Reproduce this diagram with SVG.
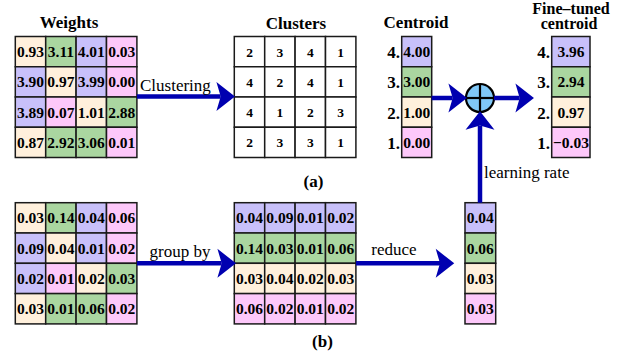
<svg xmlns="http://www.w3.org/2000/svg" width="638" height="356" viewBox="0 0 638 356">
<style>
.c{fill:#fff0dc}.g{fill:#aad6a0}.p{fill:#c8c0fa}.k{fill:#fdc8fa}.w{fill:#ffffff}
rect{stroke:#1a1a1a;stroke-width:1.5}
text{fill:#000}
.n{font-size:15.5px;font-weight:bold;text-anchor:middle}
.cn{font-size:13.5px;font-weight:bold;text-anchor:middle}
.t{font-size:17px;font-weight:bold;text-anchor:middle}
.f{font-size:16px;font-weight:bold;text-anchor:middle}
.l{font-size:17px;font-weight:bold;text-anchor:end}
.r{font-size:17px}
.arr{stroke:#0000b0;stroke-width:4.5;fill:none;marker-end:url(#ah)}
</style>
<defs>
<marker id="ah" markerUnits="userSpaceOnUse" markerWidth="20" markerHeight="30" viewBox="0 -14 18 28" refX="4" refY="0" orient="auto" overflow="visible">
<path d="M0,-13.5 L17.3,0 L0,13.5 L4,0 Z" fill="#0000b0"/>
</marker>
</defs>
<g font-family="Liberation Serif, serif">
<g id="weights">
<text class="t" x="69" y="28">Weights</text>
<rect class="c" x="15.3" y="36.5" width="30.4" height="30.25"/><rect class="g" x="45.7" y="36.5" width="30.4" height="30.25"/><rect class="p" x="76.1" y="36.5" width="30.4" height="30.25"/><rect class="k" x="106.5" y="36.5" width="30.4" height="30.25"/>
<rect class="p" x="15.3" y="66.75" width="30.4" height="30.25"/><rect class="c" x="45.7" y="66.75" width="30.4" height="30.25"/><rect class="p" x="76.1" y="66.75" width="30.4" height="30.25"/><rect class="k" x="106.5" y="66.75" width="30.4" height="30.25"/>
<rect class="p" x="15.3" y="97" width="30.4" height="30.25"/><rect class="k" x="45.7" y="97" width="30.4" height="30.25"/><rect class="c" x="76.1" y="97" width="30.4" height="30.25"/><rect class="g" x="106.5" y="97" width="30.4" height="30.25"/>
<rect class="c" x="15.3" y="127.25" width="30.4" height="30.25"/><rect class="g" x="45.7" y="127.25" width="30.4" height="30.25"/><rect class="g" x="76.1" y="127.25" width="30.4" height="30.25"/><rect class="k" x="106.5" y="127.25" width="30.4" height="30.25"/>
<text class="n" x="30.5" y="57">0.93</text><text class="n" x="60.9" y="57">3.11</text><text class="n" x="91.3" y="57">4.01</text><text class="n" x="121.7" y="57">0.03</text>
<text class="n" x="30.5" y="87.3">3.90</text><text class="n" x="60.9" y="87.3">0.97</text><text class="n" x="91.3" y="87.3">3.99</text><text class="n" x="121.7" y="87.3">0.00</text>
<text class="n" x="30.5" y="117.5">3.89</text><text class="n" x="60.9" y="117.5">0.07</text><text class="n" x="91.3" y="117.5">1.01</text><text class="n" x="121.7" y="117.5">2.88</text>
<text class="n" x="30.5" y="147.8">0.87</text><text class="n" x="60.9" y="147.8">2.92</text><text class="n" x="91.3" y="147.8">3.06</text><text class="n" x="121.7" y="147.8">0.01</text>
</g>

<g id="clusters">
<text class="t" x="296" y="29">Clusters</text>
<rect class="w" x="234.3" y="36.5" width="30.4" height="30.25"/><rect class="w" x="264.7" y="36.5" width="30.4" height="30.25"/><rect class="w" x="295.1" y="36.5" width="30.4" height="30.25"/><rect class="w" x="325.5" y="36.5" width="30.4" height="30.25"/>
<rect class="w" x="234.3" y="66.75" width="30.4" height="30.25"/><rect class="w" x="264.7" y="66.75" width="30.4" height="30.25"/><rect class="w" x="295.1" y="66.75" width="30.4" height="30.25"/><rect class="w" x="325.5" y="66.75" width="30.4" height="30.25"/>
<rect class="w" x="234.3" y="97" width="30.4" height="30.25"/><rect class="w" x="264.7" y="97" width="30.4" height="30.25"/><rect class="w" x="295.1" y="97" width="30.4" height="30.25"/><rect class="w" x="325.5" y="97" width="30.4" height="30.25"/>
<rect class="w" x="234.3" y="127.25" width="30.4" height="30.25"/><rect class="w" x="264.7" y="127.25" width="30.4" height="30.25"/><rect class="w" x="295.1" y="127.25" width="30.4" height="30.25"/><rect class="w" x="325.5" y="127.25" width="30.4" height="30.25"/>
<text class="cn" x="249.5" y="56.5">2</text><text class="cn" x="279.9" y="56.5">3</text><text class="cn" x="310.3" y="56.5">4</text><text class="cn" x="340.7" y="56.5">1</text>
<text class="cn" x="249.5" y="86.8">4</text><text class="cn" x="279.9" y="86.8">2</text><text class="cn" x="310.3" y="86.8">4</text><text class="cn" x="340.7" y="86.8">1</text>
<text class="cn" x="249.5" y="117">4</text><text class="cn" x="279.9" y="117">1</text><text class="cn" x="310.3" y="117">2</text><text class="cn" x="340.7" y="117">3</text>
<text class="cn" x="249.5" y="147.3">2</text><text class="cn" x="279.9" y="147.3">3</text><text class="cn" x="310.3" y="147.3">3</text><text class="cn" x="340.7" y="147.3">1</text>
</g>

<g id="centroid">
<text class="t" x="416" y="28">Centroid</text>
<rect class="p" x="401.7" y="36.5" width="30" height="30.25"/>
<rect class="g" x="401.7" y="66.75" width="30" height="30.25"/>
<rect class="c" x="401.7" y="97" width="30" height="30.25"/>
<rect class="k" x="401.7" y="127.25" width="30" height="30.25"/>
<text class="n" x="416.7" y="57">4.00</text><text class="n" x="416.7" y="87.3">3.00</text><text class="n" x="416.7" y="117.5">1.00</text><text class="n" x="416.7" y="147.8">0.00</text>
<text class="l" x="400" y="58">4.</text><text class="l" x="400" y="88.3">3.</text><text class="l" x="400" y="118.5">2.</text><text class="l" x="400" y="148.8">1.</text>
</g>

<g id="finetuned">
<text class="f" x="571" y="14">Fine–tuned</text>
<text class="f" x="569" y="28.5">centroid</text>
<rect class="p" x="551.7" y="36.5" width="38.3" height="30.25"/>
<rect class="g" x="551.7" y="66.75" width="38.3" height="30.25"/>
<rect class="c" x="551.7" y="97" width="38.3" height="30.25"/>
<rect class="k" x="551.7" y="127.25" width="38.3" height="30.25"/>
<text class="n" x="571" y="57">3.96</text><text class="n" x="571" y="87.3">2.94</text><text class="n" x="571" y="117.5">0.97</text><text class="n" x="571" y="147.8">−0.03</text>
<text class="l" x="550" y="58">4.</text><text class="l" x="550" y="88.3">3.</text><text class="l" x="550" y="118.5">2.</text><text class="l" x="550" y="148.8">1.</text>
</g>

<g id="adder">
<circle cx="480" cy="98" r="14" fill="#80c8f8" stroke="#000" stroke-width="2.2"/>
<line x1="466" y1="98" x2="494" y2="98" stroke="#000" stroke-width="2.2"/>
<line x1="480" y1="84" x2="480" y2="112" stroke="#000" stroke-width="2.2"/>
</g>

<g id="gradients">
<rect class="c" x="15.3" y="202.7" width="30.4" height="30.3"/><rect class="g" x="45.7" y="202.7" width="30.4" height="30.3"/><rect class="p" x="76.1" y="202.7" width="30.4" height="30.3"/><rect class="k" x="106.5" y="202.7" width="30.4" height="30.3"/>
<rect class="p" x="15.3" y="233" width="30.4" height="30.3"/><rect class="c" x="45.7" y="233" width="30.4" height="30.3"/><rect class="p" x="76.1" y="233" width="30.4" height="30.3"/><rect class="k" x="106.5" y="233" width="30.4" height="30.3"/>
<rect class="p" x="15.3" y="263.3" width="30.4" height="30.3"/><rect class="k" x="45.7" y="263.3" width="30.4" height="30.3"/><rect class="c" x="76.1" y="263.3" width="30.4" height="30.3"/><rect class="g" x="106.5" y="263.3" width="30.4" height="30.3"/>
<rect class="c" x="15.3" y="293.6" width="30.4" height="30.3"/><rect class="g" x="45.7" y="293.6" width="30.4" height="30.3"/><rect class="g" x="76.1" y="293.6" width="30.4" height="30.3"/><rect class="k" x="106.5" y="293.6" width="30.4" height="30.3"/>
<text class="n" x="30.5" y="223.3">0.03</text><text class="n" x="60.9" y="223.3">0.14</text><text class="n" x="91.3" y="223.3">0.04</text><text class="n" x="121.7" y="223.3">0.06</text>
<text class="n" x="30.5" y="253.6">0.09</text><text class="n" x="60.9" y="253.6">0.04</text><text class="n" x="91.3" y="253.6">0.01</text><text class="n" x="121.7" y="253.6">0.02</text>
<text class="n" x="30.5" y="283.9">0.02</text><text class="n" x="60.9" y="283.9">0.01</text><text class="n" x="91.3" y="283.9">0.02</text><text class="n" x="121.7" y="283.9">0.03</text>
<text class="n" x="30.5" y="314.2">0.03</text><text class="n" x="60.9" y="314.2">0.01</text><text class="n" x="91.3" y="314.2">0.06</text><text class="n" x="121.7" y="314.2">0.02</text>
</g>

<g id="grouped">
<rect class="p" x="234.3" y="202.7" width="30.4" height="30.3"/><rect class="p" x="264.7" y="202.7" width="30.4" height="30.3"/><rect class="p" x="295.1" y="202.7" width="30.4" height="30.3"/><rect class="p" x="325.5" y="202.7" width="30.4" height="30.3"/>
<rect class="g" x="234.3" y="233" width="30.4" height="30.3"/><rect class="g" x="264.7" y="233" width="30.4" height="30.3"/><rect class="g" x="295.1" y="233" width="30.4" height="30.3"/><rect class="g" x="325.5" y="233" width="30.4" height="30.3"/>
<rect class="c" x="234.3" y="263.3" width="30.4" height="30.3"/><rect class="c" x="264.7" y="263.3" width="30.4" height="30.3"/><rect class="c" x="295.1" y="263.3" width="30.4" height="30.3"/><rect class="c" x="325.5" y="263.3" width="30.4" height="30.3"/>
<rect class="k" x="234.3" y="293.6" width="30.4" height="30.3"/><rect class="k" x="264.7" y="293.6" width="30.4" height="30.3"/><rect class="k" x="295.1" y="293.6" width="30.4" height="30.3"/><rect class="k" x="325.5" y="293.6" width="30.4" height="30.3"/>
<text class="n" x="249.5" y="223.3">0.04</text><text class="n" x="279.9" y="223.3">0.09</text><text class="n" x="310.3" y="223.3">0.01</text><text class="n" x="340.7" y="223.3">0.02</text>
<text class="n" x="249.5" y="253.6">0.14</text><text class="n" x="279.9" y="253.6">0.03</text><text class="n" x="310.3" y="253.6">0.01</text><text class="n" x="340.7" y="253.6">0.06</text>
<text class="n" x="249.5" y="283.9">0.03</text><text class="n" x="279.9" y="283.9">0.04</text><text class="n" x="310.3" y="283.9">0.02</text><text class="n" x="340.7" y="283.9">0.03</text>
<text class="n" x="249.5" y="314.2">0.06</text><text class="n" x="279.9" y="314.2">0.02</text><text class="n" x="310.3" y="314.2">0.01</text><text class="n" x="340.7" y="314.2">0.02</text>
</g>

<g id="reduced">
<rect class="p" x="465" y="202.7" width="30.7" height="30.3"/>
<rect class="g" x="465" y="233" width="30.7" height="30.3"/>
<rect class="c" x="465" y="263.3" width="30.7" height="30.3"/>
<rect class="k" x="465" y="293.6" width="30.7" height="30.3"/>
<text class="n" x="480.3" y="223.3">0.04</text><text class="n" x="480.3" y="253.6">0.06</text><text class="n" x="480.3" y="283.9">0.03</text><text class="n" x="480.3" y="314.2">0.03</text>
</g>

<g id="connectors">
<line class="arr" x1="137" y1="96.5" x2="220.7" y2="96.5"/>
<line class="arr" x1="431.7" y1="98" x2="452.7" y2="98"/>
<line class="arr" x1="494" y1="98" x2="519.7" y2="98"/>
<line class="arr" x1="480" y1="202.7" x2="480" y2="125.5"/>
<line class="arr" x1="137" y1="263.3" x2="221.7" y2="263.3"/>
<line class="arr" x1="356" y1="263.3" x2="440" y2="263.3"/>
<text class="r" x="140" y="91">Clustering</text>
<text class="r" x="180" y="256.5" text-anchor="middle">group by</text>
<text class="r" x="394" y="255" text-anchor="middle">reduce</text>
<text class="r" x="484" y="178">learning rate</text>
</g>

<text class="t" x="313.5" y="187">(a)</text>
<text class="t" x="322.5" y="347">(b)</text>
</g>
</svg>
